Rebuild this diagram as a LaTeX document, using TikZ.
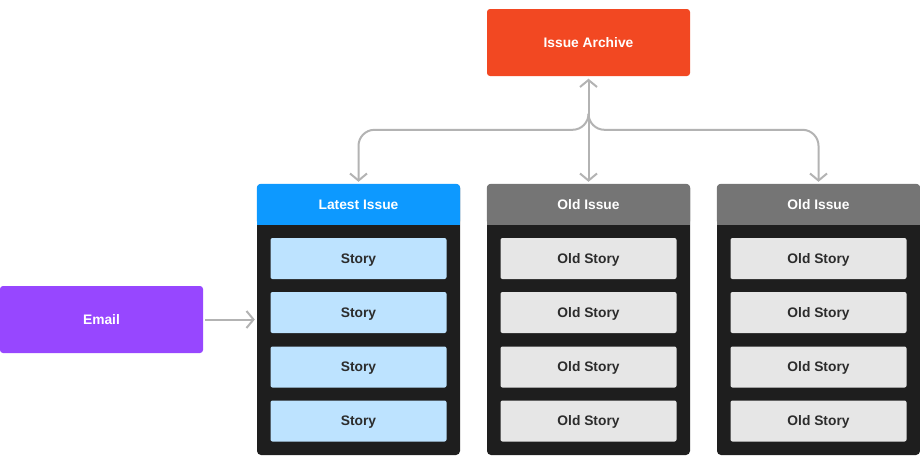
\documentclass[tikz,border=0pt]{standalone}
\usepackage{fontspec}
\setmainfont{Liberation Sans}
\usetikzlibrary{arrows.meta,calc}
\definecolor{archc}{HTML}{F24822}
\definecolor{emailc}{HTML}{9747FF}
\definecolor{latestc}{HTML}{0D99FF}
\definecolor{oldc}{HTML}{757575}
\definecolor{darkc}{HTML}{1E1E1E}
\definecolor{storyc}{HTML}{BDE3FF}
\definecolor{oldstoryc}{HTML}{E6E6E6}
\definecolor{linec}{HTML}{B3B3B3}
\definecolor{textc}{HTML}{2C2C2C}
\tikzset{
  lbl/.style={font=\fontsize{13.8}{16}\selectfont\bfseries, text height=9.9pt, text depth=0pt},
  bigbox/.style={lbl, text=white, minimum width=203pt, minimum height=67pt, rounded corners=3pt, inner sep=0pt},
  colbox/.style={minimum width=203pt, minimum height=271pt, fill=darkc, rounded corners=4pt, inner sep=0pt},
  hdrtext/.style={lbl, text=white, inner sep=0pt},
  storybox/.style={lbl, text=textc, minimum width=176pt, minimum height=41pt, rounded corners=2pt, inner sep=0pt},
  tip/.tip={Straight Barb[length=7pt,width=17pt,line width=2pt]},
  conn/.style={draw=linec, line width=2pt, -tip},
  conn2/.style={draw=linec, line width=2pt, tip-tip},
}
\begin{document}
\begin{tikzpicture}[x=1pt,y=-1pt]
\useasboundingbox (0,0) rectangle (920,461);
% top
\node[bigbox, fill=archc] (arch) at (588.5,42.5) {Issue Archive};
\node[bigbox, fill=emailc] (email) at (101.5,319.5) {Email};
% columns
\foreach \i/\cx/\hc/\title/\sc/\st in {1/358.5/latestc/Latest Issue/storyc/Story,2/588.5/oldc/Old Issue/oldstoryc/Old Story,3/818.5/oldc/Old Issue/oldstoryc/Old Story}{
  \node[colbox] (c\i) at (\cx,319.5) {};
  \fill[\hc, rounded corners=4pt] (c\i.north west) rectangle ($(c\i.north east)+(0,41)$);
  \fill[\hc] ($(c\i.north west)+(0,20)$) rectangle ($(c\i.north east)+(0,41)$);
  \node[hdrtext] (h\i) at ($(c\i.north)+(0,20.5)$) {\title};
  \node[storybox, fill=\sc] (s\i a) at (\cx,258.5) {\st};
  \node[storybox, fill=\sc] (s\i b) at (\cx,312.5) {\st};
  \node[storybox, fill=\sc] (s\i c) at (\cx,367) {\st};
  \node[storybox, fill=\sc] (s\i d) at (\cx,421) {\st};
}
% connectors
\coordinate (split) at ($(arch.south)+(0,38)$);
\draw[conn2] ($(arch.south)+(0,2.5)$) -- ($(c2.north)+(0,-2)$);
\draw[conn, rounded corners=16pt] (split) |- ($(c1.north)+(0,-54)$) -- ($(c1.north)+(0,-2)$);
\draw[conn, rounded corners=16pt] (split) |- ($(c3.north)+(0,-54)$) -- ($(c3.north)+(0,-2)$);
\draw[conn] ($(email.east)+(2,0)$) -- ($(c1.west)+(-2,0)$);
\end{tikzpicture}
\end{document}
